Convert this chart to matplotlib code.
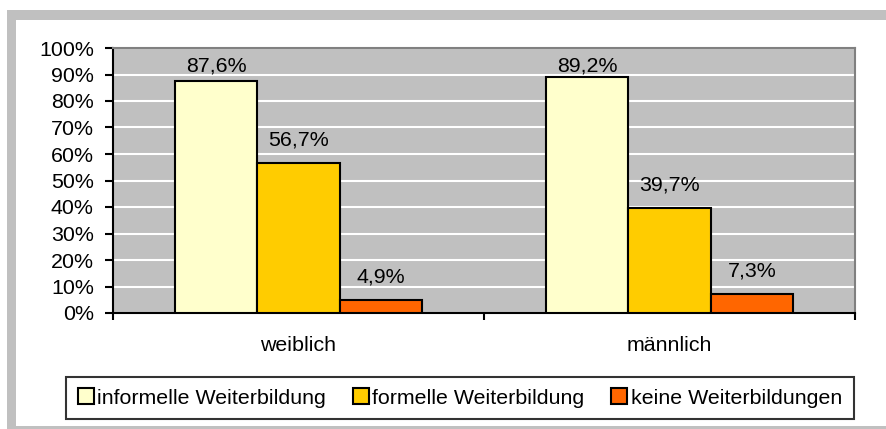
import numpy as np
import matplotlib.pyplot as plt
from matplotlib.patches import Rectangle
from matplotlib.ticker import FuncFormatter

plt.rcParams['font.family'] = ['Liberation Sans', 'DejaVu Sans']

# data
groups = ["weiblich", "männlich"]
series = ["informelle Weiterbildung", "formelle Weiterbildung", "keine Weiterbildungen"]
informell = [0.876, 0.892]
formell = [0.567, 0.397]
keine = [0.049, 0.073]
colors = ["#FFFFCC", "#FFCC00", "#FF6600"]

W, H, DPI = 887, 429, 100
fig = plt.figure(figsize=(W / DPI, H / DPI), dpi=DPI)
fs = 15.4

# outer gray frame (pixel coords, origin bottom-left)
fig.patches.append(Rectangle((7, 0), W - 7, H - 10, transform=None,
                             facecolor="#C0C0C0", edgecolor="none", zorder=-2))
fig.patches.append(Rectangle((16, 3), W - 16, H - 23, transform=None,
                             facecolor="white", edgecolor="none", zorder=-1))

ax = fig.add_axes([113 / W, (H - 313) / H, (855 - 113) / W, (313 - 48) / H])
ax.set_facecolor("#C0C0C0")

x = np.arange(len(groups))
bw = 0.222
values = [informell, formell, keine]
for i, (name, vals, col) in enumerate(zip(series, values, colors)):
    xs = x + (i - 1) * bw
    ax.bar(xs, vals, width=bw, color=col, edgecolor="black", linewidth=1.5,
           label=name, zorder=3)
    for xi, v in zip(xs, vals):
        ly = min(v + 0.087, 0.932)
        ax.text(xi, ly, f"{v * 100:.1f}%".replace(".", ","), ha="center",
                va="center", fontsize=fs, zorder=4)

ax.set_xlim(-0.5, 1.5)
ax.set_ylim(0, 1)
ax.set_yticks(np.arange(0, 1.01, 0.1))
ax.yaxis.set_major_formatter(FuncFormatter(lambda v, p: f"{v * 100:.0f}%"))
ax.grid(axis="y", color="white", linewidth=1.5, zorder=1)
ax.set_axisbelow(True)

ax.set_xticks(x)
ax.set_xticklabels(groups, fontsize=fs)
ax.set_xticks([-0.5, 0.5, 1.5], minor=True)
ax.tick_params(axis="x", which="major", length=0, pad=16.5)
ax.tick_params(axis="x", which="minor", length=5, width=1.5, color="black")
ax.tick_params(axis="y", length=5.8, width=1.5, pad=8, labelsize=fs)

for s in ["left", "bottom"]:
    ax.spines[s].set_color("black")
    ax.spines[s].set_linewidth(1.5)
for s in ["top", "right"]:
    ax.spines[s].set_color("#808080")
    ax.spines[s].set_linewidth(1.5)

leg = fig.legend(loc="center", bbox_to_anchor=(460 / W, (H - 398) / H),
                 ncol=3, fontsize=fs, frameon=True, fancybox=False,
                 handlelength=0.75, handleheight=0.75, handletextpad=0.15,
                 columnspacing=1.25, borderpad=0.55, borderaxespad=0)
leg.get_frame().set_edgecolor("black")
leg.get_frame().set_linewidth(1.5)
leg.get_frame().set_facecolor("white")
for h in leg.legend_handles:
    h.set_linewidth(1.5)

fig.savefig("out.png", dpi=DPI)
